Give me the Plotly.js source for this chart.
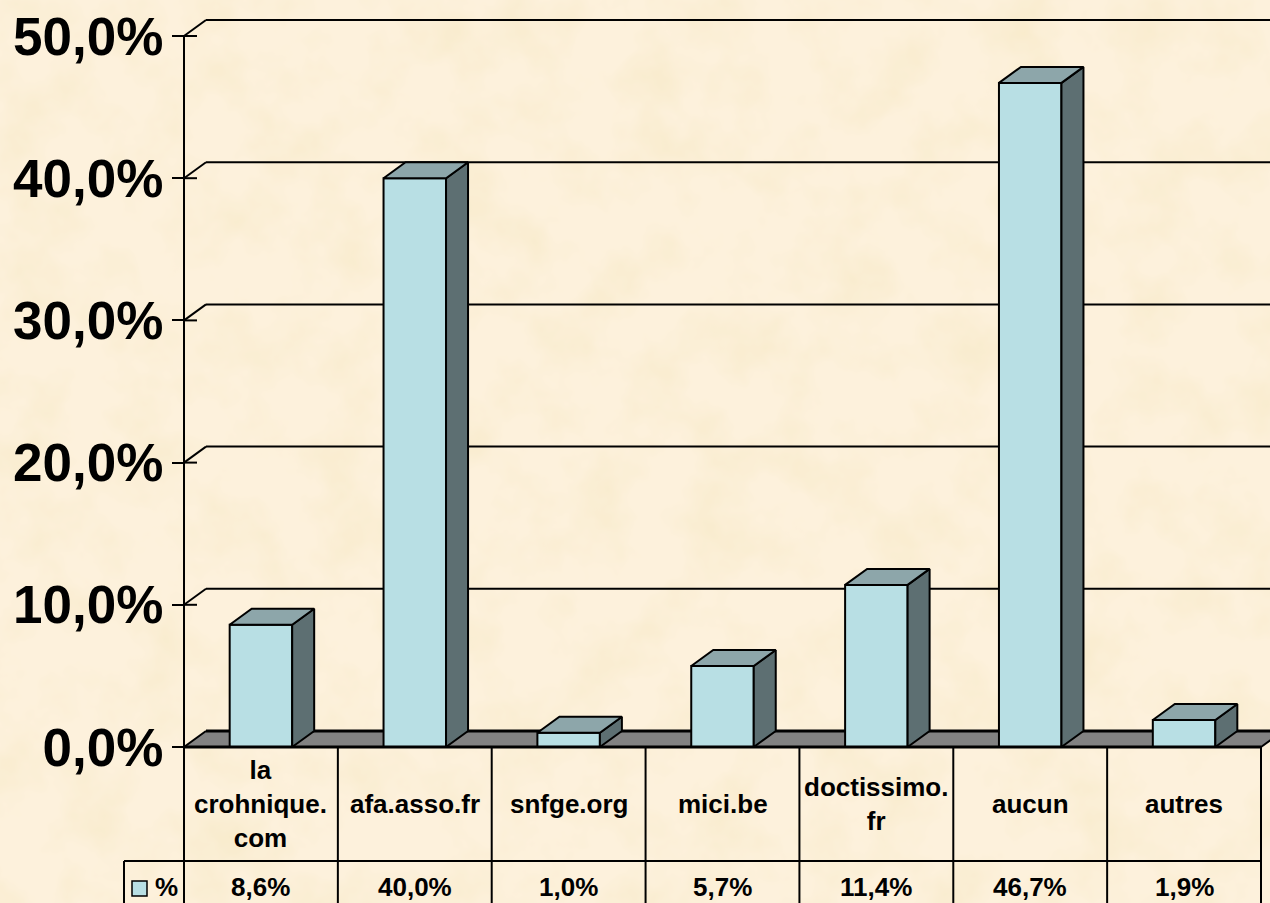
<!DOCTYPE html>
<html>
<head>
<meta charset="utf-8">
<script src="https://cdn.plot.ly/plotly-3.0.1.min.js"></script>
<style>
html,body{margin:0;padding:0;width:1270px;height:903px;overflow:hidden;background-color:#FDF1DC;}
#parchment{position:absolute;left:0;top:0;}
#chart{position:absolute;left:0;top:0;width:1270px;height:903px;}
</style>
</head>
<body>
<svg id="parchment" width="1270" height="903">
  <filter id="tex" x="0" y="0" width="100%" height="100%">
    <feTurbulence type="fractalNoise" baseFrequency="0.016" numOctaves="4" seed="7"/>
    <feColorMatrix type="matrix" values="0 0 0 0 0.93  0 0 0 0 0.82  0 0 0 0 0.58  1.5 0 0 0 -0.62"/>
  </filter>
  <rect width="1270" height="903" filter="url(#tex)"/>
</svg>
<div id="chart"></div>
<script>
// Data
const categories = ["la<br>crohnique.<br>com", "afa.asso.fr", "snfge.org", "mici.be", "doctissimo.<br>fr", "aucun", "autres"];
const values = [8.6, 40.0, 1.0, 5.7, 11.4, 46.7, 1.9];
const seriesName = "%";
const yTicks = [0, 10, 20, 30, 40, 50];

// Scale helpers (pixels per unit of the chart frame)
const W = 1270, H = 903;
const pxX = 153.857, pxY = 14.22, zeroPx = 747, leftPx = 184;
const X = px => (px - leftPx) / pxX - 0.5;
const Y = px => (zeroPx - px) / pxY;
const depthX = 22 / pxX, depthY = 16 / pxY;
const barW = 62.5 / pxX;
const frac = v => v.toFixed(1).replace('.', ',') + '%';
const n = categories.length;
const xs = categories.map((_, i) => i);
const x0 = -0.5, x1 = n - 0.5;
const row1 = Y(861);

const sideColor = '#5D6F72', topColor = '#8DA6AA', frontColor = '#B8DFE4';
const edge = {color: '#000', width: 2};

const traces = [];
traces.push({type: 'bar', x: xs, y: values, width: barW, name: seriesName,
  marker: {color: frontColor, line: edge}, showlegend: false, cliponaxis: false,
  hovertemplate: '%{y:.1f}%<extra></extra>'});
xs.forEach((c, i) => {
  const l = c - barW / 2, r = c + barW / 2, v = values[i];
  traces.push({type: 'scatter', mode: 'lines', fill: 'toself', fillcolor: sideColor, line: edge,
    x: [r, r + depthX, r + depthX, r, r], y: [0, depthY, v + depthY, v, 0], showlegend: false, hoverinfo: 'skip'});
  traces.push({type: 'scatter', mode: 'lines', fill: 'toself', fillcolor: topColor, line: edge,
    x: [l, l + depthX, r + depthX, r, l], y: [v, v + depthY, v + depthY, v, v], showlegend: false, hoverinfo: 'skip'});
});

const line = (a, b, c, d, w, layer) => ({type: 'line', xref: 'x', yref: 'y', x0: a, y0: b, x1: c, y1: d,
  line: {color: '#000', width: w}, layer: layer || 'above'});

const shapes = [];
// Floor
shapes.push({type: 'path', xref: 'x', yref: 'y', layer: 'below', fillcolor: '#828282',
  path: `M${x0},0 L${x0 + depthX},${depthY} L${x1 + depthX},${depthY} L${x1},0 Z`,
  line: {color: 'rgba(0,0,0,0)', width: 0}});
shapes.push(line(x0, 0, x0 + depthX, depthY, 2, 'below'));
shapes.push(line(x0 + depthX, depthY, x1 + depthX, depthY, 3, 'below'));
shapes.push(line(x1, 0, x1 + depthX, depthY, 2, 'below'));
// Walls: gridlines
yTicks.filter(t => t > 0).forEach(t => {
  shapes.push(line(x0, t, x0 + depthX, t + depthY, 2, 'below'));
  shapes.push(line(x0 + depthX, t + depthY, x1 + 1, t + depthY, 2, 'below'));
});
// Vertical axis and inner halves of tick marks
shapes.push(line(x0, 0, x0, 50, 2));
yTicks.forEach(t => shapes.push(line(x0, t, x0 + 13 / pxX, t, 2)));
// Base line
shapes.push(line(x0, 0, x1, 0, 3));
// Data table
for (let i = 0; i <= n; i++) shapes.push(line(x0 + i, 0, x0 + i, Y(H + 2), 2));
shapes.push(line(X(124), row1, x1, row1, 2));
shapes.push(line(X(124), row1, X(124), Y(H + 2), 2));
// Legend key
shapes.push({type: 'rect', xref: 'x', yref: 'y', x0: X(132), x1: X(147), y0: Y(896), y1: Y(881),
  fillcolor: frontColor, line: {color: '#000', width: 1.5}, layer: 'above'});

const tableFont = {family: 'Liberation Sans, Arial, sans-serif', size: 26, color: '#000'};
const boldText = s => s.split('<br>').map(p => `<b>${p}</b>`).join('<br>');
const annotations = [];
xs.forEach((c, i) => {
  annotations.push({xref: 'x', yref: 'y', x: c, y: Y(804), text: boldText(categories[i]), showarrow: false,
    xanchor: 'center', yanchor: 'middle', align: 'center', font: tableFont});
  annotations.push({xref: 'x', yref: 'y', x: c, y: Y(887), text: boldText(frac(values[i])), showarrow: false,
    xanchor: 'center', yanchor: 'middle', font: tableFont});
});
annotations.push({xref: 'x', yref: 'y', x: X(166), y: Y(887), text: boldText(seriesName), showarrow: false,
  xanchor: 'center', yanchor: 'middle', font: tableFont});

const layout = {
  width: W, height: H,
  margin: {l: 0, r: 0, t: 0, b: 0, pad: 0},
  paper_bgcolor: 'rgba(0,0,0,0)', plot_bgcolor: 'rgba(0,0,0,0)',
  showlegend: false, barmode: 'overlay', dragmode: false,
  xaxis: {range: [X(0), X(W)], showgrid: false, zeroline: false, showticklabels: false, ticks: '', showline: false, fixedrange: true},
  yaxis: {range: [Y(H), Y(0)], anchor: 'free', position: leftPx / W, side: 'left',
    tickvals: yTicks, ticktext: yTicks.map(frac), ticks: 'outside', ticklen: 12, tickwidth: 2, tickcolor: '#000',
    ticklabelstandoff: -2,
    showgrid: false, zeroline: false, showline: false, fixedrange: true,
    tickfont: {family: 'Liberation Sans, Arial, sans-serif', size: 53, color: '#000', weight: 'bold'}},
  shapes, annotations
};
Plotly.newPlot('chart', traces, layout, {displayModeBar: false, staticPlot: true});
</script>
</body>
</html>
